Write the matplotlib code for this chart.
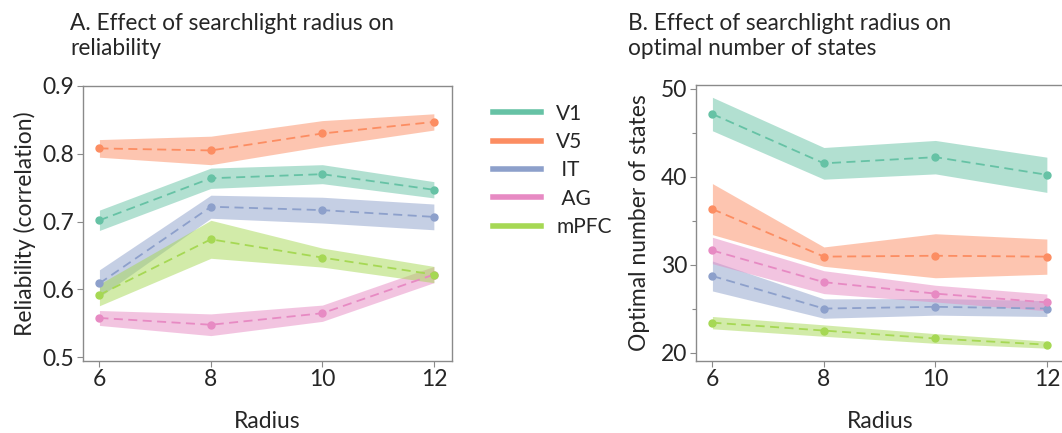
import matplotlib
matplotlib.use("Agg")
import matplotlib.pyplot as plt
import numpy as np

radius = [6, 8, 10, 12]
regions = ["V1", "V5", "IT", "AG", "mPFC"]
legend_labels = ["V1", "V5", " IT", " AG", "mPFC"]
colors = ["#66c2a5", "#fc8d62", "#8da0cb", "#e78ac3", "#a6d854"]

# Panel A: reliability (mean, half-width of band)
rel_V1 = [0.702, 0.764, 0.770, 0.747]
rel_V5 = [0.808, 0.805, 0.830, 0.847]
rel_IT = [0.609, 0.722, 0.717, 0.707]
rel_AG = [0.558, 0.548, 0.565, 0.622]
rel_mPFC = [0.592, 0.674, 0.647, 0.622]
rel_err_V1 = [0.015, 0.015, 0.014, 0.012]
rel_err_V5 = [0.013, 0.021, 0.019, 0.012]
rel_err_IT = [0.020, 0.017, 0.019, 0.019]
rel_err_AG = [0.011, 0.016, 0.012, 0.012]
rel_err_mPFC = [0.016, 0.028, 0.014, 0.012]

# Panel B: optimal number of states
st_V1 = [47.1, 41.5, 42.2, 40.2]
st_V5 = [36.3, 30.9, 31.0, 30.9]
st_IT = [28.7, 25.0, 25.2, 25.0]
st_AG = [31.6, 28.0, 26.7, 25.7]
st_mPFC = [23.4, 22.5, 21.6, 20.9]
st_err_V1 = [1.9, 1.8, 1.9, 2.0]
st_err_V5 = [2.9, 1.1, 2.5, 2.0]
st_err_IT = [1.7, 1.1, 0.95, 0.9]
st_err_AG = [1.5, 1.3, 0.95, 0.95]
st_err_mPFC = [0.7, 0.65, 0.55, 0.4]

rel = [rel_V1, rel_V5, rel_IT, rel_AG, rel_mPFC]
rel_err = [rel_err_V1, rel_err_V5, rel_err_IT, rel_err_AG, rel_err_mPFC]
st = [st_V1, st_V5, st_IT, st_AG, st_mPFC]
st_err = [st_err_V1, st_err_V5, st_err_IT, st_err_AG, st_err_mPFC]

plt.rcParams['font.family'] = ['Lato', 'DejaVu Sans']
txt = "#262626"
spine_c = "#8a8a8a"
FS = 16.5
FS_T = 16.3
FS_L = 15

W, H = 1062, 433
fig = plt.figure(figsize=(W / 100, H / 100), dpi=100)

axA = fig.add_axes([82.7 / W, 1 - 360.7 / H, 369 / W, (360.7 - 86) / H])
axB = fig.add_axes([695.7 / W, 1 - 360.5 / H, 369 / W, (360.5 - 85) / H])


def draw(ax, means, errs):
    for m, e, c in zip(means, errs, colors):
        m = np.asarray(m)
        e = np.asarray(e)
        ax.fill_between(radius, m - e, m + e, color=c, alpha=0.5, lw=0)
        ax.plot(radius, m, ls=(0, (5, 3)), color=c, lw=1.3, marker='o', ms=5)
    ax.set_xticks(radius)
    ax.set_xlim(5.70, 12.32)
    for s in ax.spines.values():
        s.set_color(spine_c)
        s.set_linewidth(1.0)
    ax.tick_params(axis='both', labelsize=FS, colors=spine_c, labelcolor=txt,
                   length=4, width=0.8, pad=2)
    ax.tick_params(which='minor', length=3, width=0.8, colors=spine_c)
    ax.set_xlabel("Radius", fontsize=FS, color=txt, labelpad=15)


draw(axA, rel, rel_err)
axA.set_ylim(0.495, 0.9)
axA.set_yticks([0.5, 0.6, 0.7, 0.8, 0.9])
axA.set_yticklabels(["0.5", "0.6", "0.7", "0.8", "0.9"])
axA.set_ylabel("Reliability (correlation)", fontsize=FS, color=txt, labelpad=5)

draw(axB, st, st_err)
axB.set_ylim(19.1, 50.4)
axB.set_yticks([20, 30, 40, 50])
axB.set_yticks([25, 35, 45], minor=True)
axB.set_ylabel("Optimal number of states", fontsize=FS, color=txt, labelpad=8)

fig.text(70.5 / W, 1 - 55 / H, "A. Effect of searchlight radius on\nreliability",
         fontsize=FS_T, color=txt, ha='left', va='baseline', linespacing=1.25)
fig.text(628 / W, 1 - 55 / H, "B. Effect of searchlight radius on\noptimal number of states",
         fontsize=FS_T, color=txt, ha='left', va='baseline', linespacing=1.25)

handles = [plt.Line2D([], [], color=c, lw=4) for c in colors]
fig.legend(handles, legend_labels, loc='upper left', bbox_to_anchor=(474 / W, 1 - 85 / H),
           frameon=False, fontsize=FS_L, handlelength=2.3, handletextpad=0.75,
           labelspacing=0.4, labelcolor=txt)

fig.savefig("out.png", dpi=100)
